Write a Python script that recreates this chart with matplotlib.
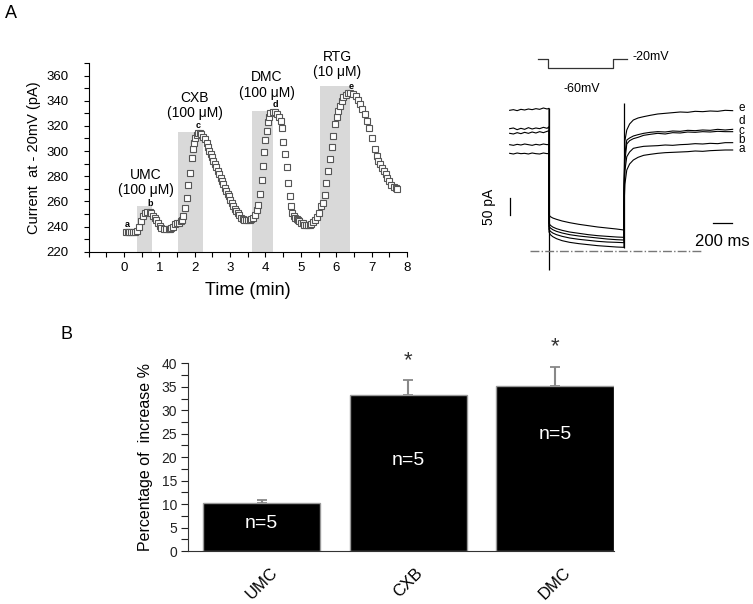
import matplotlib
matplotlib.use('Agg')
import matplotlib.pyplot as plt
from matplotlib.ticker import MultipleLocator, FixedLocator

plt.rcParams['font.family'] = ['Liberation Sans', 'DejaVu Sans']

# ---- Panel A, left: current at -20 mV over time ----
t_min = [0.05, 0.10, 0.15, 0.20, 0.25, 0.30,
         0.37, 0.41, 0.49, 0.54, 0.60, 0.66, 0.73, 0.77, 0.82, 0.87, 0.91, 0.96,
         1.01, 1.05, 1.13, 1.20, 1.26, 1.30, 1.34, 1.38, 1.45, 1.50, 1.55, 1.60,
         1.65, 1.68,
         1.72, 1.77, 1.82, 1.86, 1.91, 1.94, 1.98, 2.01, 2.05, 2.10, 2.15, 2.19,
         2.24, 2.29, 2.34, 2.38, 2.41, 2.45, 2.49, 2.53, 2.57, 2.61, 2.65, 2.69,
         2.73, 2.77, 2.81, 2.85, 2.89, 2.93, 2.97, 3.01, 3.05, 3.09, 3.13, 3.17,
         3.21, 3.25, 3.30, 3.35, 3.40, 3.45, 3.50, 3.55, 3.60, 3.65, 3.70, 3.75,
         3.79,
         3.84, 3.89, 3.92, 3.95, 3.98, 4.03, 4.08, 4.10, 4.14, 4.20, 4.27, 4.33,
         4.39, 4.43, 4.46, 4.50, 4.55, 4.60, 4.64, 4.68, 4.72, 4.76, 4.80, 4.84,
         4.88, 4.92, 4.96, 5.00, 5.05, 5.10, 5.15, 5.20, 5.25, 5.30, 5.35, 5.40,
         5.46, 5.52, 5.58, 5.63,
         5.67, 5.71, 5.77, 5.82, 5.87, 5.91, 5.96, 6.01, 6.05, 6.10, 6.15, 6.20,
         6.27, 6.34, 6.40, 6.48, 6.55, 6.62, 6.67, 6.74, 6.81, 6.87, 6.93, 7.00,
         7.09, 7.14, 7.19, 7.23, 7.28, 7.34, 7.40, 7.44, 7.49, 7.56, 7.63, 7.68,
         7.72]
current_pA = [235.5, 235.5, 235.5, 235.5, 235.5, 235.5,
              236.8, 240, 244, 248, 250.7, 251.5, 251.5, 250.7, 248.5, 246.7, 244.8, 242.7,
              240.6, 239.2, 238.2, 237.9, 237.9, 238, 238.7, 240, 241.9, 242.5, 243.2, 244,
              245.5, 248,
              254.7, 262.7, 273.4, 282.7, 294.7, 301.4, 306.7, 310, 312.6, 314.2, 314.7, 313.4,
              311.5, 309.4, 306.7, 303.5, 300, 297.4, 295, 292, 289.5, 287, 284.5, 282,
              278.7, 276.5, 273.5, 271, 268.5, 266, 264, 261, 259, 256.5, 254, 252,
              250.5, 248.8, 247, 246, 245.5, 245.2, 245.2, 245.4, 245.8, 246.7, 249.4, 253.4,
              257.4,
              266.2, 276.8, 288, 299.2, 308.8, 316, 322.7, 326.7, 330.2, 331.2, 330.7, 329.4,
              326.7, 324, 318, 307, 298, 287, 275, 264, 256, 250.7, 248.6, 247,
              245.8, 245, 244, 243, 242.5, 241.6, 241.2, 241.2, 241.5, 242.2, 243.5, 245,
              247.5, 251, 256, 259,
              265, 274.7, 284, 293.9, 303.5, 312, 321.4, 326.7, 332, 336, 340, 342.7,
              344.6, 346.2, 346.2, 345.4, 343.5, 340.8, 337.4, 333.4, 329.4, 324, 318.7, 310.7,
              301.4, 296, 292, 289.4, 286.7, 284, 281.4, 278.7, 276, 273.4, 271.5, 270.7,
              269.9]

drugs = ['UMC', 'CXB', 'DMC', 'RTG']
drug_conc = ['(100 \u03bcM)', '(100 \u03bcM)', '(100 \u03bcM)', '(10 \u03bcM)']
app_start = [0.36, 1.52, 3.61, 5.54]
app_end = [0.80, 2.24, 4.22, 6.38]
app_top = [256, 315, 332, 351.5]

trace_ids = ['a', 'b', 'c', 'd', 'e']
trace_time = [0.08, 0.73, 2.10, 4.27, 6.41]
trace_level = [242, 258, 320, 337, 351.5]

# ---- Panel A, right: current traces (ms, pA) ----
pre_t = [-420, -380, -340, -300, -260, -220, -180, -140, -100, -60, -20, 0]
step_t = [0, 15, 40, 80, 140, 220, 320, 420, 520, 620, 720, 800]
post_t = [800, 810, 830, 860, 900, 950, 1010, 1080, 1160, 1240, 1320, 1400,
          1480, 1560, 1640, 1720, 1800, 1880, 1960]

pre_I = {
    'e': [421, 423, 420, 424, 422, 425, 423, 426, 424, 428, 425, 427],
    'd': [366, 368, 363, 367, 364, 369, 365, 368, 366, 370, 367, 372],
    'c': [352, 350, 354, 351, 355, 352, 356, 353, 357, 354, 358, 360],
    'b': [318, 316, 319, 317, 320, 318, 316, 319, 317, 320, 318, 319],
    'a': [292, 290, 293, 291, 292, 290, 293, 291, 290, 293, 291, 292],
}
step_I = {
    'e': [107, 102, 98, 94, 89, 84, 79, 75, 71, 68, 65, 62],
    'd': [82, 76, 71, 66, 61, 56, 52, 48, 45, 43, 41, 40],
    'c': [73, 68, 63, 58, 53, 48, 44, 41, 38, 35, 33, 32],
    'b': [64, 58, 53, 48, 43, 38, 34, 31, 28, 26, 25, 24],
    'a': [56, 48, 42, 36, 30, 25, 21, 18, 15, 13, 11, 10],
}
post_I = {
    'e': [200, 330, 362, 380, 392, 398, 402, 406, 410, 412, 414, 416, 415, 418, 417, 419, 418, 421, 420],
    'd': [180, 290, 332, 338, 344, 348, 352, 355, 357, 356, 359, 358, 361, 360, 362, 361, 364, 362, 364],
    'c': [170, 270, 320, 330, 336, 340, 346, 349, 352, 350, 354, 353, 356, 355, 357, 356, 358, 357, 357],
    'b': [150, 240, 282, 296, 307, 310, 313, 314, 315, 317, 316, 318, 319, 321, 320, 322, 321, 324, 324],
    'a': [130, 200, 242, 260, 272, 280, 286, 289, 292, 294, 295, 296, 297, 299, 298, 300, 301, 302, 302],
}
protocol_t = [-114, -7, -7, 686, 686, 829]
protocol_mV = [-20, -20, -60, -60, -20, -20]

# ---- Panel B: percentage increase ----
groups = ['UMC', 'CXB', 'DMC']
pct_mean = [10.2, 33.2, 35.2]
pct_sem = [0.7, 3.2, 4.1]
n_labels = ['n=5', 'n=5', 'n=5']
significant = [False, True, True]

fig = plt.figure(figsize=(7.53, 6.04), dpi=100)

# A left
ax1 = fig.add_axes([0.1177, 0.5833, 0.4228, 0.3124])
for s, e_, top in zip(app_start, app_end, app_top):
    ax1.bar(s, top - 220, bottom=220, width=e_ - s, align='edge',
            color='#d9d9d9', zorder=1)
ax1.plot(t_min, current_pA, 's', ms=3.8, mfc='white', mec='#555555',
         mew=0.8, zorder=3)
label_pos = [(0.61, 275), (2.0, 336), (4.03, 352.5), (6.03, 369)]
for name, conc, (x, y) in zip(drugs, drug_conc, label_pos):
    ax1.text(x, y, name + '\n' + conc, ha='center', va='center',
             fontsize=10, linespacing=1.1, clip_on=False)
for lab, x, y in zip(trace_ids, trace_time, trace_level):
    ax1.text(x, y, lab, ha='center', va='center', fontsize=6.5,
             fontweight='bold', zorder=4)
ax1.set_xlim(-1, 8)
ax1.set_ylim(220, 370)
ax1.xaxis.set_major_locator(FixedLocator(list(range(0, 9))))
ax1.xaxis.set_minor_locator(FixedLocator([-1, -0.5] + [i + 0.5 for i in range(8)]))
ax1.set_yticks(range(220, 361, 20))
ax1.yaxis.set_minor_locator(MultipleLocator(10))
ax1.spines['top'].set_visible(False)
ax1.spines['right'].set_visible(False)
ax1.tick_params(axis='both', which='both', length=3.5, width=0.8)
ax1.tick_params(axis='y', labelsize=9.5, pad=11)
ax1.tick_params(axis='x', labelsize=9.5, pad=4)
ax1.set_xlabel('Time (min)', fontsize=13, labelpad=6)
ax1.set_ylabel('Current  at - 20mV (pA)', fontsize=10.5, labelpad=4)

# A right: traces
ax2 = fig.add_axes([0.6242, 0.5364, 0.3758, 0.3974])
ax2.set_xlim(-843, 2177)
ax2.set_ylim(-88, 632)
ax2.axis('off')
for k in ['a', 'b', 'c', 'd', 'e']:
    tt = pre_t + step_t + post_t
    ii = pre_I[k] + step_I[k] + post_I[k]
    ax2.plot(tt, ii, color='black', lw=0.8)
ax2.vlines(0, -58, 427, color='black', lw=0.9)
ax2.vlines(800, 8, 444, color='black', lw=0.9)
ax2.plot([-203, 1629], [0, 0], color='#777777', lw=1, ls='-.')
ax2.plot([-416, -416], [107, 157], color='black', lw=0.9)
ax2.text(-640, 132, '50 pA', rotation=90, ha='center', va='center', fontsize=10)
ax2.plot([1753, 1953], [82, 82], color='black', lw=0.9)
ax2.text(1845, 27, '200 ms', ha='center', va='center', fontsize=12)
ax2.text(896, 582, '-20mV', ha='left', va='center', fontsize=9)
ax2.text(349, 484, '-60mV', ha='center', va='center', fontsize=9)
trace_label_y = [305, 332, 360, 388, 427]
for lab, y in zip(trace_ids, trace_label_y):
    ax2.text(2056, y, lab, ha='center', va='center', fontsize=8.5, clip_on=False)

ax3 = fig.add_axes([530 / 753, 1 - 75 / 604, 110 / 753, 25 / 604])
ax3.set_xlim(-203, 971)
ax3.set_ylim(-89.8, 21.3)
ax3.axis('off')
ax3.plot(protocol_t, protocol_mV, color='#333333', lw=0.9)

# B
ax4 = fig.add_axes([0.2501, 0.0877, 0.5647, 0.3108])
x = list(range(len(groups)))
ax4.bar(x, pct_mean, width=0.8, color='black', edgecolor='#999999',
        linewidth=1, zorder=2)
ax4.errorbar(x, pct_mean, yerr=[[0] * 3, pct_sem], fmt='none',
             ecolor='#888888', elinewidth=1.5, capsize=3.5, capthick=1.3,
             zorder=1)
n_y = [5.8, 19.2, 24.9]
for xi, lab, y in zip(x, n_labels, n_y):
    ax4.text(xi, y, lab, color='white', ha='center', va='center', fontsize=14)
for xi, m, s, sig in zip(x, pct_mean, pct_sem, significant):
    if sig:
        ax4.text(xi, m + s + 4.2, '*', ha='center', va='center',
                 fontsize=16, color='#333333', clip_on=False)
ax4.set_xlim(-0.5, 2.4)
ax4.set_ylim(0, 40)
ax4.set_xticks(x)
ax4.set_xticklabels(groups, rotation=45, fontsize=12)
ax4.set_yticks(range(0, 41, 5))
ax4.yaxis.set_minor_locator(MultipleLocator(2.5))
ax4.spines['top'].set_visible(False)
ax4.spines['right'].set_visible(False)
ax4.spines['left'].set_color('#333333')
ax4.spines['bottom'].set_color('#333333')
ax4.tick_params(axis='x', length=0, pad=10)
ax4.tick_params(axis='y', which='both', length=5, width=0.8, labelsize=10,
                colors='#222222', pad=3)
ax4.set_ylabel('Percentage of  increase %', fontsize=11.5, labelpad=6)

fig.text(11 / 753, 1 - 13 / 604, 'A', fontsize=13, ha='center', va='center')
fig.text(66 / 753, 1 - 334 / 604, 'B', fontsize=13, ha='center', va='center')

fig.savefig('out.png', dpi=100)
